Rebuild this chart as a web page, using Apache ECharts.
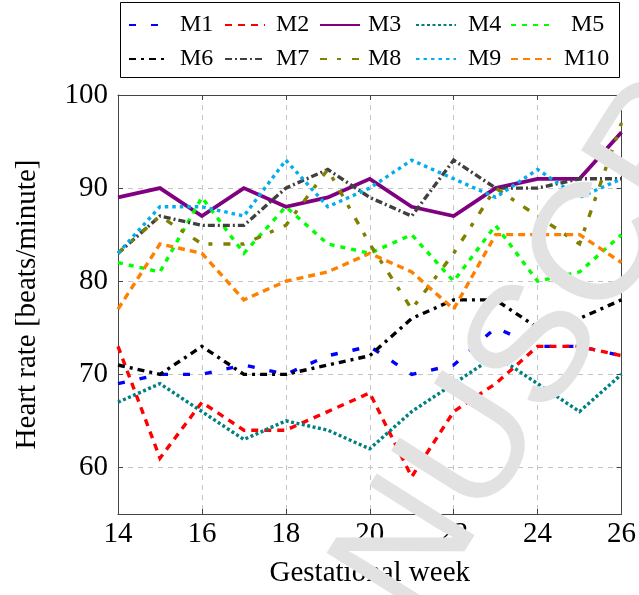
<!DOCTYPE html>
<html>
<head>
<meta charset="utf-8">
<script src="https://cdn.jsdelivr.net/npm/echarts@6/dist/echarts.min.js"></script>
<style>
html,body{margin:0;padding:0;background:#fff;}
#chart{width:639px;height:595px;}
</style>
</head>
<body>
<div id="chart"></div>
<script>
// ---- data ----
const weeks = [14, 15, 16, 17, 18, 19, 20, 21, 22, 23, 24, 25, 26];
const seriesNames = ['M1', 'M2', 'M3', 'M4', 'M5', 'M6', 'M7', 'M8', 'M9', 'M10'];
const M1  = [69, 70, 70, 71, 70, 72, 73, 70, 71, 75, 73, 73, 72];
const M2  = [73, 61, 67, 64, 64, 66, 68, 59, 66, 69, 73, 73, 72];
const M3  = [89, 90, 87, 90, 88, 89, 91, 88, 87, 90, 91, 91, 96];
const M4  = [67, 69, 66, 63, 65, 64, 62, 66, 69, 72, 69, 66, 70];
const M5  = [82, 81, 89, 83, 88, 84, 83, 85, 80, 86, 80, 81, 85];
const M6  = [71, 70, 73, 70, 70, 71, 72, 76, 78, 78, 75, 76, 78];
const M7  = [83, 87, 86, 86, 90, 92, 89, 87, 93, 90, 90, 91, 91];
const M8  = [83, 87, 84, 84, 86, 92, 84, 77, 83, 90, 87, 84, 97];
const M9  = [83, 88, 88, 87, 93, 88, 90, 93, 91, 89, 92, 89, 91];
const M10 = [77, 84, 83, 78, 80, 81, 83, 81, 77, 85, 85, 85, 82];
const xTicks = [14, 16, 18, 20, 22, 24, 26];
const yTicks = [60, 70, 80, 90, 100];
const xTitle = 'Gestational week';
const yTitle = 'Heart rate [beats/minute]';
const watermark = 'MANUSCRIPT';

// ---- styles ----
const values = [M1, M2, M3, M4, M5, M6, M7, M8, M9, M10];
const styles = [
  {color: '#0000ff', width: 3.4, type: [7, 15]},
  {color: '#ff0000', width: 3.4, type: [7, 6]},
  {color: '#800080', width: 3.8, type: 'solid'},
  {color: '#008080', width: 3.4, type: [3, 2.5]},
  {color: '#00ff00', width: 3.4, type: [5, 6]},
  {color: '#000000', width: 3.4, type: [7, 5, 3, 5]},
  {color: '#404040', width: 3.4, type: [7, 3, 2, 3]},
  {color: '#808000', width: 3.4, type: [7, 10, 4, 11]},
  {color: '#00aeef', width: 3.4, type: [3.5, 4]},
  {color: '#ff8000', width: 3.4, type: [7, 5]}
];
// legend layout: [sampleLeft, top, textPadLeft]
const legendLayout = [
  [128, 13, 6], [224, 13, 6], [319, 13, 3], [415, 13, 7], [510, 13, 15],
  [128, 47, 6], [224, 47, 6], [319, 47, 3], [415, 47, 7], [510, 47, 8]
];
const FONT = 'Liberation Serif';

const series = seriesNames.map((name, i) => ({
  name: name,
  type: 'line',
  data: weeks.map((w, j) => [w, values[i][j]]),
  symbol: 'none',
  showSymbol: false,
  smooth: false,
  animation: false,
  lineStyle: {color: styles[i].color, width: styles[i].width, type: styles[i].type, cap: 'butt', join: 'miter'},
  itemStyle: {color: styles[i].color},
  z: 2 + i
}));

const legends = seriesNames.map((name, i) => ({
  data: [name],
  left: legendLayout[i][0],
  top: legendLayout[i][1],
  padding: 0,
  itemWidth: 40,
  itemHeight: 14,
  selectedMode: false,
  itemStyle: {opacity: 0},
  lineStyle: {opacity: 1},
  textStyle: {fontFamily: FONT, fontSize: 24, color: '#000', padding: [0, 0, 0, legendLayout[i][2]]}
}));

const axisLineStyle = {color: '#444', width: 1};
const gridLine = {show: true, lineStyle: {color: '#c4c4c4', type: [5, 5], width: 1}};

const chart = echarts.init(document.getElementById('chart'), null, {renderer: 'canvas'});
chart.setOption({
  animation: false,
  backgroundColor: '#fff',
  grid: {left: 118, right: 16, top: 95, bottom: 81, containLabel: false},
  legend: legends,
  xAxis: [{
    type: 'value', min: xTicks[0], max: xTicks[xTicks.length - 1], interval: 2,
    position: 'bottom',
    name: xTitle, nameLocation: 'middle', nameGap: 45,
    nameTextStyle: {fontFamily: FONT, fontSize: 29, color: '#000'},
    axisLine: {show: true, onZero: false, lineStyle: axisLineStyle},
    axisTick: {show: true, inside: true, length: 5, lineStyle: axisLineStyle},
    axisLabel: {fontFamily: FONT, fontSize: 29, color: '#000', margin: 6,
      formatter: v => xTicks.indexOf(v) >= 0 ? String(v) : ''},
    splitLine: gridLine
  }, {
    type: 'value', min: xTicks[0], max: xTicks[xTicks.length - 1], interval: 2,
    position: 'top',
    axisLine: {show: true, onZero: false, lineStyle: axisLineStyle},
    axisTick: {show: true, inside: true, length: 5, lineStyle: axisLineStyle},
    axisLabel: {show: false},
    splitLine: {show: false}
  }],
  yAxis: [{
    type: 'value', min: 55, max: 100, splitNumber: 5,
    position: 'left',
    name: yTitle, nameLocation: 'middle', nameGap: 76, nameRotate: 90,
    nameTextStyle: {fontFamily: FONT, fontSize: 29, color: '#000'},
    axisLine: {show: true, onZero: false, lineStyle: axisLineStyle},
    axisTick: {show: true, inside: true, length: 5, lineStyle: axisLineStyle},
    axisLabel: {fontFamily: FONT, fontSize: 29, color: '#000', margin: 10,
      formatter: v => yTicks.indexOf(v) >= 0 ? String(v) : ''},
    splitLine: gridLine
  }, {
    type: 'value', min: 55, max: 100, splitNumber: 5,
    position: 'right',
    axisLine: {show: true, onZero: false, lineStyle: axisLineStyle},
    axisTick: {show: true, inside: true, length: 5, lineStyle: axisLineStyle},
    axisLabel: {show: false},
    splitLine: {show: false}
  }],
  series: series,
  graphic: [
    {type: 'rect', left: 118, top: 0, z: 0, silent: true,
     shape: {width: 499, height: 75},
     style: {fill: 'none', stroke: '#000', lineWidth: 1}},
    {type: 'text', x: 540, y: 345, rotation: 1.007, z: 100, silent: true,
     style: {text: watermark, fontFamily: 'Liberation Sans', fontSize: 168,
       fill: '#e2e2e2', align: 'center', verticalAlign: 'middle'}}
  ]
});
</script>
</body>
</html>
